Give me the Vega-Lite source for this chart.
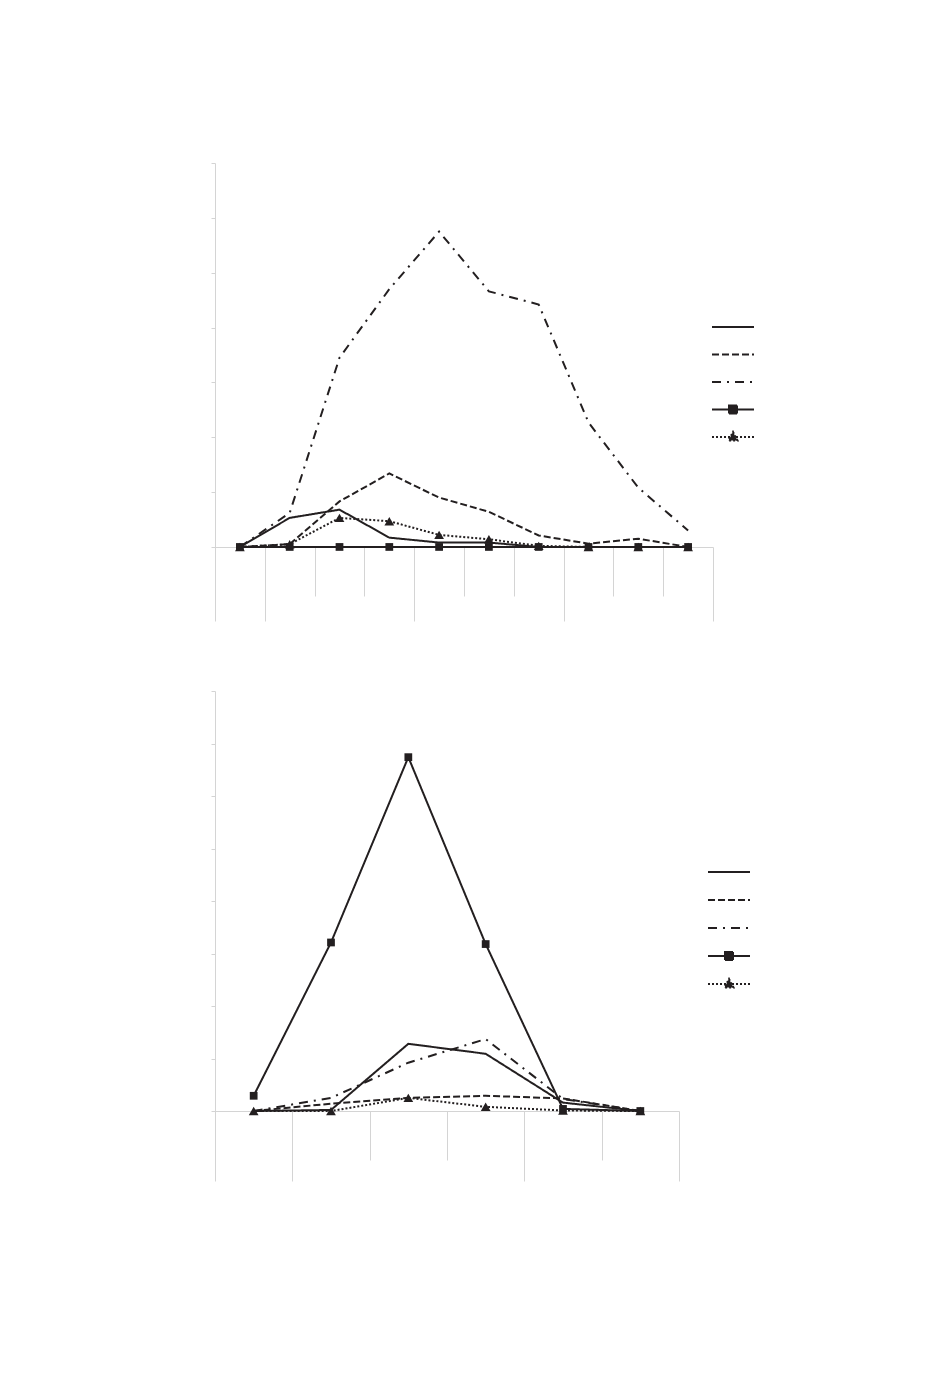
{
  "$schema": "https://vega.github.io/schema/vega-lite/v6.json",
  "background": "white",
  "padding": {"left": 210, "top": 162, "right": 5, "bottom": 5},
  "config": {
    "view": {"stroke": null},
    "axis": {"domainColor": "#d4d4d4", "tickColor": "#d4d4d4", "domainWidth": 1, "tickWidth": 1, "labels": false, "title": null, "grid": false}
  },
  "spacing": 68,
  "resolve": {"scale": {"strokeDash": "independent", "shape": "independent", "size": "independent"}, "legend": {"strokeDash": "independent", "shape": "independent", "size": "independent"}},
  "datasets": {
    "top": [
      {"cat": 1, "series": "S1", "value": 0}, {"cat": 2, "series": "S1", "value": 0.53}, {"cat": 3, "series": "S1", "value": 0.68}, {"cat": 4, "series": "S1", "value": 0.17}, {"cat": 5, "series": "S1", "value": 0.08}, {"cat": 6, "series": "S1", "value": 0.08}, {"cat": 7, "series": "S1", "value": 0}, {"cat": 8, "series": "S1", "value": 0}, {"cat": 9, "series": "S1", "value": 0}, {"cat": 10, "series": "S1", "value": 0},
      {"cat": 1, "series": "S2", "value": 0}, {"cat": 2, "series": "S2", "value": 0.05}, {"cat": 3, "series": "S2", "value": 0.83}, {"cat": 4, "series": "S2", "value": 1.34}, {"cat": 5, "series": "S2", "value": 0.9}, {"cat": 6, "series": "S2", "value": 0.64}, {"cat": 7, "series": "S2", "value": 0.21}, {"cat": 8, "series": "S2", "value": 0.06}, {"cat": 9, "series": "S2", "value": 0.15}, {"cat": 10, "series": "S2", "value": 0},
      {"cat": 1, "series": "S3", "value": 0}, {"cat": 2, "series": "S3", "value": 0.62}, {"cat": 3, "series": "S3", "value": 3.45}, {"cat": 4, "series": "S3", "value": 4.7}, {"cat": 5, "series": "S3", "value": 5.75}, {"cat": 6, "series": "S3", "value": 4.66}, {"cat": 7, "series": "S3", "value": 4.42}, {"cat": 8, "series": "S3", "value": 2.27}, {"cat": 9, "series": "S3", "value": 1.08}, {"cat": 10, "series": "S3", "value": 0.3},
      {"cat": 1, "series": "S4", "value": 0}, {"cat": 2, "series": "S4", "value": 0}, {"cat": 3, "series": "S4", "value": 0}, {"cat": 4, "series": "S4", "value": 0}, {"cat": 5, "series": "S4", "value": 0}, {"cat": 6, "series": "S4", "value": 0}, {"cat": 7, "series": "S4", "value": 0}, {"cat": 8, "series": "S4", "value": 0}, {"cat": 9, "series": "S4", "value": 0}, {"cat": 10, "series": "S4", "value": 0},
      {"cat": 1, "series": "S5", "value": 0}, {"cat": 2, "series": "S5", "value": 0.05}, {"cat": 3, "series": "S5", "value": 0.53}, {"cat": 4, "series": "S5", "value": 0.47}, {"cat": 5, "series": "S5", "value": 0.22}, {"cat": 6, "series": "S5", "value": 0.14}, {"cat": 7, "series": "S5", "value": 0.02}, {"cat": 8, "series": "S5", "value": 0}, {"cat": 9, "series": "S5", "value": 0}, {"cat": 10, "series": "S5", "value": 0}
    ],
    "bottom": [
      {"cat": 1, "series": "S1", "value": 0}, {"cat": 2, "series": "S1", "value": 0.02}, {"cat": 3, "series": "S1", "value": 1.28}, {"cat": 4, "series": "S1", "value": 1.09}, {"cat": 5, "series": "S1", "value": 0.16}, {"cat": 6, "series": "S1", "value": 0},
      {"cat": 1, "series": "S2", "value": 0}, {"cat": 2, "series": "S2", "value": 0.14}, {"cat": 3, "series": "S2", "value": 0.25}, {"cat": 4, "series": "S2", "value": 0.29}, {"cat": 5, "series": "S2", "value": 0.24}, {"cat": 6, "series": "S2", "value": 0},
      {"cat": 1, "series": "S3", "value": 0}, {"cat": 2, "series": "S3", "value": 0.25}, {"cat": 3, "series": "S3", "value": 0.92}, {"cat": 4, "series": "S3", "value": 1.37}, {"cat": 5, "series": "S3", "value": 0.23}, {"cat": 6, "series": "S3", "value": 0},
      {"cat": 1, "series": "S4", "value": 0.29}, {"cat": 2, "series": "S4", "value": 3.21}, {"cat": 3, "series": "S4", "value": 6.74}, {"cat": 4, "series": "S4", "value": 3.18}, {"cat": 5, "series": "S4", "value": 0.04}, {"cat": 6, "series": "S4", "value": 0},
      {"cat": 1, "series": "S5", "value": 0}, {"cat": 2, "series": "S5", "value": 0}, {"cat": 3, "series": "S5", "value": 0.25}, {"cat": 4, "series": "S5", "value": 0.08}, {"cat": 5, "series": "S5", "value": 0.01}, {"cat": 6, "series": "S5", "value": 0}
    ]
  },
  "vconcat": [
    {
      "width": 498,
      "height": 458,
      "data": {"name": "top"},
      "encoding": {
        "x": {"field": "cat", "type": "quantitative", "scale": {"domain": [0.5, 10.5], "nice": false, "zero": false},
          "axis": {"values": [1.5, 2.5, 3.5, 4.5, 5.5, 6.5, 7.5, 8.5, 9.5, 10.5], "offset": -74,
            "tickSize": {"condition": {"test": "datum.value === 1.5 || datum.value === 4.5 || datum.value === 7.5 || datum.value === 10.5", "value": 74}, "value": 49}}},
        "y": {"field": "value", "type": "quantitative", "scale": {"domain": [-1.35, 7], "nice": false, "zero": false},
          "axis": {"values": [0, 1, 2, 3, 4, 5, 6, 7], "tickSize": 4}}
      },
      "layer": [
        {
          "mark": {"type": "line", "strokeWidth": 2, "color": "#231f20"},
          "encoding": {
            "strokeDash": {"field": "series", "type": "nominal",
              "scale": {"domain": ["S1", "S2", "S3", "S4", "S5"], "range": [[1, 0], [7, 3], [9, 6, 2, 6], [1, 0], [2, 2]]},
              "legend": {"title": null, "orient": "none", "legendX": 507, "legendY": 153, "labelExpr": "''", "padding": 0,
                "symbolSize": 400, "rowPadding": 8.5, "symbolStrokeWidth": 2, "symbolStrokeColor": "#231f20",
                "encode": {"symbols": {"update": {
                  "shape": {"signal": "datum.value === 'S4' ? 'M-2.1,0H2.1M-0.4,-0.4H0.4V0.4H-0.4Z' : datum.value === 'S5' ? 'M-2.1,0H2.1M0,-0.5L0.45,0.35H-0.45Z' : 'M-2.1,0H2.1M0,-0.45L0,-0.45M0,0.4L0,0.4'"},
                  "fill": {"signal": "datum.value === 'S4' || datum.value === 'S5' ? '#231f20' : 'transparent'"},
                  "stroke": {"value": "#231f20"}
                }}}}}
          }
        },
        {
          "transform": [{"filter": "datum.series === 'S4' || datum.series === 'S5'"}],
          "mark": {"type": "point", "filled": true, "opacity": 1, "color": "#231f20"},
          "encoding": {
            "shape": {"field": "series", "type": "nominal", "scale": {"domain": ["S4", "S5"], "range": ["square", "triangle-up"]}, "legend": null},
            "size": {"field": "series", "type": "nominal", "scale": {"domain": ["S4", "S5"], "range": [60, 95]}, "legend": null}
          }
        }
      ]
    },
    {
      "width": 464,
      "height": 490,
      "data": {"name": "bottom"},
      "encoding": {
        "x": {"field": "cat", "type": "quantitative", "scale": {"domain": [0.5, 6.5], "nice": false, "zero": false},
          "axis": {"values": [1.5, 2.5, 3.5, 4.5, 5.5, 6.5], "offset": -70,
            "tickSize": {"condition": {"test": "datum.value === 1.5 || datum.value === 4.5 || datum.value === 6.5", "value": 70}, "value": 49}}},
        "y": {"field": "value", "type": "quantitative", "scale": {"domain": [-1.333, 8], "nice": false, "zero": false},
          "axis": {"values": [0, 1, 2, 3, 4, 5, 6, 7, 8], "tickSize": 4}}
      },
      "layer": [
        {
          "mark": {"type": "line", "strokeWidth": 2, "color": "#231f20"},
          "encoding": {
            "strokeDash": {"field": "series", "type": "nominal",
              "scale": {"domain": ["S1", "S2", "S3", "S4", "S5"], "range": [[1, 0], [7, 3], [9, 6, 2, 6], [1, 0], [2, 2]]},
              "legend": {"title": null, "orient": "none", "legendX": 503, "legendY": 170, "labelExpr": "''", "padding": 0,
                "symbolSize": 400, "rowPadding": 9, "symbolStrokeWidth": 2, "symbolStrokeColor": "#231f20",
                "encode": {"symbols": {"update": {
                  "shape": {"signal": "datum.value === 'S4' ? 'M-2.1,0H2.1M-0.4,-0.4H0.4V0.4H-0.4Z' : datum.value === 'S5' ? 'M-2.1,0H2.1M0,-0.5L0.45,0.35H-0.45Z' : 'M-2.1,0H2.1M0,-0.45L0,-0.45M0,0.4L0,0.4'"},
                  "fill": {"signal": "datum.value === 'S4' || datum.value === 'S5' ? '#231f20' : 'transparent'"},
                  "stroke": {"value": "#231f20"}
                }}}}}
          }
        },
        {
          "transform": [{"filter": "datum.series === 'S4' || datum.series === 'S5'"}],
          "mark": {"type": "point", "filled": true, "opacity": 1, "color": "#231f20"},
          "encoding": {
            "shape": {"field": "series", "type": "nominal", "scale": {"domain": ["S4", "S5"], "range": ["square", "triangle-up"]}, "legend": null},
            "size": {"field": "series", "type": "nominal", "scale": {"domain": ["S4", "S5"], "range": [60, 95]}, "legend": null}
          }
        }
      ]
    }
  ]
}
